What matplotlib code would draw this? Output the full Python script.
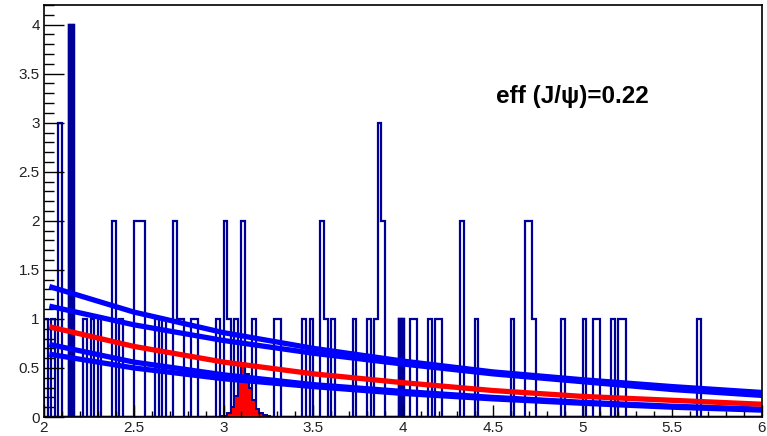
import numpy as np
import matplotlib.pyplot as plt
from matplotlib.ticker import MultipleLocator, FuncFormatter

plt.rcParams['font.family'] = ['Liberation Sans', 'DejaVu Sans']

# dimuon mass histogram, 200 bins of 0.02 between 2 and 6
mass_lo, mass_hi, n_bins = 2.0, 6.0, 200

# lower edges of the filled data bins and their counts
hit_lo = [2.00, 2.04, 2.08, 2.14, 2.22, 2.26, 2.30, 2.38, 2.42, 2.50, 2.52, 2.54,
          2.62, 2.66, 2.72, 2.74, 2.76, 2.82, 2.84, 2.96, 3.00, 3.02, 3.06, 3.10,
          3.16, 3.28, 3.30, 3.44, 3.48, 3.54, 3.56, 3.60, 3.72, 3.80, 3.84, 3.86,
          3.88, 3.98, 4.04, 4.06, 4.14, 4.18, 4.20, 4.32, 4.40, 4.60, 4.68, 4.70,
          4.72, 4.88, 5.00, 5.06, 5.08, 5.16, 5.20, 5.22, 5.64]
hit_n = [1, 1, 3, 4, 1, 1, 1, 2, 1, 2, 2, 2,
         1, 1, 2, 1, 1, 1, 1, 1, 2, 1, 1, 2,
         1, 1, 1, 1, 1, 2, 1, 1, 1, 1, 1, 3,
         2, 1, 1, 1, 1, 1, 1, 2, 1, 1, 2, 2,
         1, 1, 1, 1, 1, 1, 1, 1, 1]
# bins drawn as solid bars
solid_lo = [2.14, 3.98]

# J/psi signal shape (scaled)
jpsi_lo = [2.92, 2.94, 2.96, 2.98, 3.00, 3.02, 3.04, 3.06, 3.08, 3.10, 3.12, 3.14,
           3.16, 3.18, 3.20, 3.22, 3.24, 3.26, 3.28, 3.30]
jpsi_n = [0.003, 0.003, 0.005, 0.008, 0.015, 0.04, 0.1, 0.21, 0.37, 0.55, 0.44, 0.3,
          0.17, 0.08, 0.04, 0.02, 0.01, 0.005, 0.003, 0.003]

# background fit curves
fit_x = [2.03, 2.5, 3.0, 3.5, 4.0, 4.5, 5.0, 5.5, 6.0]
fit_up1 = [1.33, 1.07, 0.86, 0.70, 0.57, 0.46, 0.38, 0.31, 0.25]
fit_up2 = [1.13, 0.94, 0.78, 0.65, 0.54, 0.44, 0.36, 0.28, 0.22]
fit_lo1 = [0.74, 0.56, 0.43, 0.33, 0.26, 0.20, 0.15, 0.11, 0.08]
fit_lo2 = [0.64, 0.50, 0.39, 0.31, 0.24, 0.185, 0.14, 0.10, 0.07]
fit_mid = [0.92, 0.72, 0.56, 0.44, 0.35, 0.27, 0.21, 0.17, 0.13]

eff_text = 'eff (J/\u03c8)=0.22'

edges = np.linspace(mass_lo, mass_hi, n_bins + 1)
width = (mass_hi - mass_lo) / n_bins


def to_bins(lo, vals):
    out = np.zeros(n_bins)
    for x, v in zip(lo, vals):
        out[int(round((x - mass_lo) / width))] = v
    return out


counts = to_bins(hit_lo, hit_n)
solid = to_bins(solid_lo, [counts[int(round((x - mass_lo) / width))] for x in solid_lo])
jpsi = to_bins(jpsi_lo, jpsi_n)

fig = plt.figure(figsize=(7.67, 4.36), dpi=100)
ax = fig.add_axes([44 / 767, 19 / 436, 718 / 767, 412 / 436])

hist_col = '#000099'
ax.stairs(counts, edges, color=hist_col, lw=1.6)
ax.stairs(solid, edges, color=hist_col, fill=True, lw=0)
ax.stairs(solid, edges, color=hist_col, lw=2.5)
ax.stairs(jpsi, edges, color='red', fill=True, lw=0)
ax.stairs(jpsi, edges, color=hist_col, lw=1.4)

for ys in (fit_up1, fit_up2, fit_lo1, fit_lo2):
    ax.plot(fit_x, ys, color='blue', lw=3.8, solid_capstyle='butt', solid_joinstyle='round')
ax.plot(fit_x, fit_mid, color='red', lw=3.8, solid_capstyle='butt', solid_joinstyle='round')

ax.text(4.52, 3.27, eff_text, fontsize=17.5, fontweight='bold', va='center', ha='left')

ax.set_xlim(mass_lo, mass_hi)
ax.set_ylim(0, 4.2)

fmt = FuncFormatter(lambda v, p: '%g' % v)
ax.xaxis.set_major_locator(MultipleLocator(0.5))
ax.xaxis.set_minor_locator(MultipleLocator(0.1))
ax.yaxis.set_major_locator(MultipleLocator(0.5))
ax.yaxis.set_minor_locator(MultipleLocator(0.1))
ax.xaxis.set_major_formatter(fmt)
ax.yaxis.set_major_formatter(fmt)

ax.tick_params(axis='both', which='both', direction='in', top=False, right=False,
               colors='black', labelcolor='#222222', labelsize=11, width=1.0)
ax.tick_params(axis='x', which='major', length=9, pad=3)
ax.tick_params(axis='x', which='minor', length=4.5)
ax.tick_params(axis='y', which='major', length=14.5, pad=3)
ax.tick_params(axis='y', which='minor', length=7)
for s in ax.spines.values():
    s.set_linewidth(1.2)

plt.savefig('out.png', dpi=100)
plt.close()
